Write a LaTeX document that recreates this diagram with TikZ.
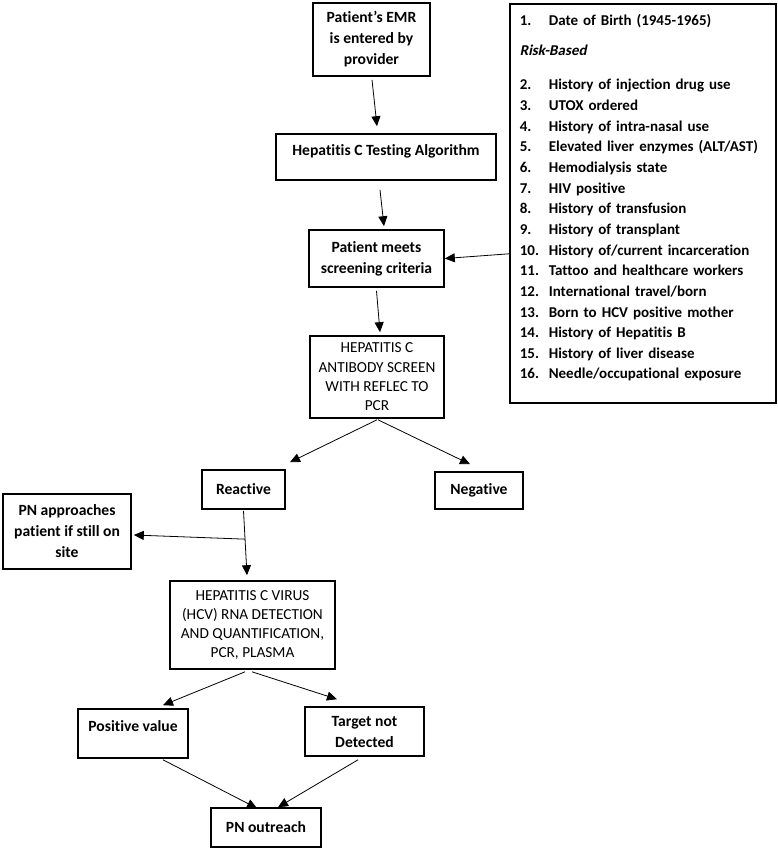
\documentclass[tikz,border=0pt]{standalone}
\usepackage{fontspec}
\setmainfont{Carlito}[Ligatures={NoCommon}]
\newfontfamily\negritoit{Carlito}[Ligatures={NoCommon}, BoldFeatures={FakeSlant=0.2}]
\usetikzlibrary{arrows.meta}

\tikzset{
    caixa/.style={draw, line width=1.6pt, rectangle, inner sep=0pt, align=center,
        font=\fontsize{15.6}{21}\selectfont\bfseries},
    caixamai/.style={caixa, font=\fontsize{15.3}{19.3}\selectfont},
    seta/.style={-{Triangle[length=10pt,width=9pt]}, line width=0.8pt}
}

\begin{document}
\begin{tikzpicture}[x=1pt, y=-1pt]

    \useasboundingbox (0,0) rectangle (778,849);

    % Caixas
    \node[caixa, minimum width=117, minimum height=73] (emr) at (371.5,39.5)
        {Patient's EMR\\is entered by\\provider};
    \node[caixa, minimum width=220, minimum height=46, text height=12pt, text depth=15pt] (algo) at (386,157)
        {Hepatitis C Testing Algorithm};
    \node[caixa, minimum width=135, minimum height=57] (meets) at (376.5,258.5)
        {Patient meets\\screening criteria};
    \node[caixamai, minimum width=134, minimum height=82] (ab) at (377,377)
        {HEPATITIS C\\ANTIBODY SCREEN\\WITH REFLEC TO\\PCR};
    \node[caixa, minimum width=83, minimum height=39] (reac) at (243.5,489.5) {Reactive};
    \node[caixa, minimum width=88, minimum height=37] (neg) at (479,490.5) {Negative};
    \node[caixa, minimum width=128, minimum height=75] (pn) at (67,531.5)
        {PN approaches\\patient if still on\\site};
    \node[caixamai, minimum width=165, minimum height=88] (hcv) at (252.5,625)
        {HEPATITIS C VIRUS\\(HCV) RNA DETECTION\\AND QUANTIFICATION,\\PCR, PLASMA};
    \node[caixa, minimum width=110, minimum height=49, text height=12pt, text depth=17pt] (pos) at (133,733.5)
        {Positive value};
    \node[caixa, minimum width=119, minimum height=49] (alvo) at (364.5,731.5)
        {Target not\\Detected};
    \node[caixa, minimum width=110, minimum height=39] (out) at (266,827.5) {PN outreach};

    % Criterios
    \node[caixa, anchor=north west, minimum width=266, minimum height=399,
        text width=246pt, inner xsep=10pt, align=left,
        font=\fontsize{15}{20.64}\selectfont\bfseries] (crit) at (509,3)
        {\raisebox{5pt}[\height][\depth]{%
        \begin{tabular}{@{}p{29pt}@{}l@{}}
        1. & Date of Birth (1945-1965)\\[9.4pt]
        \multicolumn{2}{@{}l}{\negritoit\bfseries Risk-Based}\\[13.4pt]
        2. & History of injection drug use\\
        3. & UTOX ordered\\
        4. & History of intra-nasal use\\
        5. & Elevated liver enzymes (ALT/AST)\\
        6. & Hemodialysis state\\
        7. & HIV positive\\
        8. & History of transfusion\\
        9. & History of transplant\\
        10. & History of/current incarceration\\
        11. & Tattoo and healthcare workers\\
        12. & International travel/born\\
        13. & Born to HCV positive mother\\
        14. & History of Hepatitis B\\
        15. & History of liver disease\\
        16. & Needle/occupational exposure
        \end{tabular}}};

    % Setas
    \draw[seta] ([xshift=0.5pt, yshift=-3pt]emr.south) -- ([xshift=-9pt, yshift=7pt]algo.north);
    \draw[seta] ([xshift=-6pt, yshift=-9pt]algo.south) -- ([xshift=7.5pt, yshift=3pt]meets.north);
    \draw[seta] ([yshift=-50.5pt]crit.west) -- (meets.east);
    \draw[seta] ([yshift=-3pt]meets.south) -- ([xshift=3pt, yshift=3pt]ab.north);

    \draw[seta] ([yshift=-1pt]ab.south) -- ([xshift=46.5pt, yshift=7pt]reac.north);
    \draw[seta] ([xshift=1pt, yshift=-1pt]ab.south) -- ([xshift=-9pt, yshift=7pt]neg.north);

    \draw[seta] ([yshift=-1pt]reac.south) -- coordinate[pos=0.44] (desvio) ([xshift=-5.5pt, yshift=5pt]hcv.north);
    \draw[seta] (desvio) -- ([xshift=2pt, yshift=-3.5pt]pn.east);

    \draw[seta] ([xshift=-7.5pt, yshift=-2pt]hcv.south) -- ([xshift=30pt, yshift=3pt]pos.north);
    \draw[seta] ([xshift=-0.5pt, yshift=-2pt]hcv.south) -- ([xshift=-27.5pt, yshift=7pt]alvo.north);

    \draw[seta] ([xshift=30pt, yshift=-1pt]pos.south) -- ([xshift=-9pt, yshift=-1pt]out.north);
    \draw[seta] ([xshift=-6.5pt, yshift=-3pt]alvo.south) -- ([xshift=12pt]out.north);

\end{tikzpicture}
\end{document}
